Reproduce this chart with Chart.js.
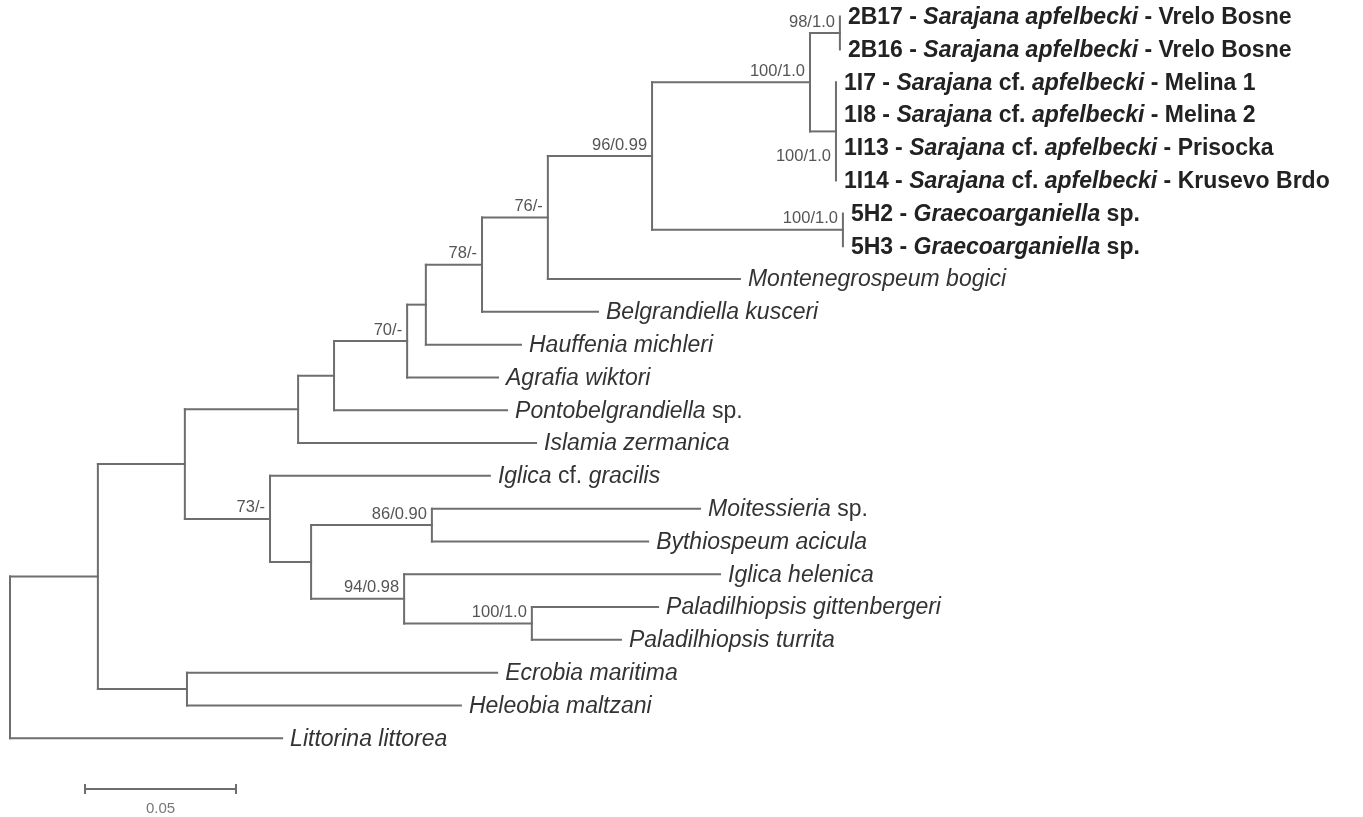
<!DOCTYPE html>
<html>
<head>
<meta charset="utf-8">
<title>Phylogenetic tree</title>
<script src="https://cdn.jsdelivr.net/npm/chart.js@4.4.1/dist/chart.umd.min.js"></script>
<style>
  html, body { margin: 0; padding: 0; background: #fff; }
  #wrap { width: 1363px; height: 817px; position: relative; }
</style>
</head>
<body>
<div id="wrap"><canvas id="tree"></canvas></div>
<script>
"use strict";

/* ── tips, top to bottom (*...* = italic) ── */
const tipLabels = [
  "2B17 - *Sarajana apfelbecki* - Vrelo Bosne",
  "2B16 - *Sarajana apfelbecki* - Vrelo Bosne",
  "1I7 - *Sarajana* cf. *apfelbecki* - Melina 1",
  "1I8 - *Sarajana* cf. *apfelbecki* - Melina 2",
  "1I13 - *Sarajana* cf. *apfelbecki* - Prisocka",
  "1I14 - *Sarajana* cf. *apfelbecki* - Krusevo Brdo",
  "5H2 - *Graecoarganiella* sp.",
  "5H3 - *Graecoarganiella* sp.",
  "*Montenegrospeum bogici*",
  "*Belgrandiella kusceri*",
  "*Hauffenia michleri*",
  "*Agrafia wiktori*",
  "*Pontobelgrandiella* sp.",
  "*Islamia zermanica*",
  "*Iglica* cf. *gracilis*",
  "*Moitessieria* sp.",
  "*Bythiospeum acicula*",
  "*Iglica helenica*",
  "*Paladilhiopsis gittenbergeri*",
  "*Paladilhiopsis turrita*",
  "*Ecrobia maritima*",
  "*Heleobia maltzani*",
  "*Littorina littorea*",
];
// distance from root (substitutions/site)
const tipDepth = [
  0.2748, 0.2748, 0.2735, 0.2735, 0.2735, 0.2735, 0.2758, 0.2758,
  0.2417, 0.1947, 0.1692, 0.1616, 0.1646, 0.1742, 0.1589, 0.2285,
  0.2113, 0.2351, 0.2146, 0.2023, 0.1613, 0.1493, 0.0901,
];
const boldTips = [0, 1, 2, 3, 4, 5, 6, 7];

/* ── internal nodes (children before parents) ── */
const nodeIds = ["M", "N", "K", "L", "J", "I", "H", "G", "F", "E", "D",
                 "Q", "S", "R", "P", "O", "C", "EH", "B", "root"];
const nodeDepth = [0.2748, 0.2735, 0.2649, 0.2758, 0.2126, 0.1781, 0.1563,
                   0.1377, 0.1315, 0.1073, 0.0954, 0.1397, 0.1728, 0.1305,
                   0.0997, 0.0861, 0.0579, 0.0586, 0.0291, 0];
const nodeChildren = [
  [0, 1], [2, 3, 4, 5], ["M", "N"], [6, 7], ["K", "L"], ["J", 8], ["I", 9],
  ["H", 10], ["G", 11], ["F", 12], ["E", 13], [15, 16], [18, 19], [17, "S"],
  ["Q", "R"], [14, "P"], ["D", "O"], [20, 21], ["C", "EH"], ["B", 22],
];
const nodeSupport = ["98/1.0", "100/1.0", "100/1.0", "100/1.0", "96/0.99",
                     "76/-", "78/-", "", "70/-", "", "", "86/0.90", "100/1.0",
                     "94/0.98", "", "73/-", "", "", "", ""];

const scaleBarLength = 0.05;
const scaleBarLabel = "0.05";

/* ── layout: y of a node = middle of its first/last child ── */
const pos = {};
tipLabels.forEach((t, i) => { pos[i] = { x: tipDepth[i], y: i }; });
nodeIds.forEach((id, k) => {
  const ys = nodeChildren[k].map((c) => pos[c].y);
  pos[id] = { x: nodeDepth[k], y: (Math.min(...ys) + Math.max(...ys)) / 2,
              lo: Math.min(...ys), hi: Math.max(...ys) };
});

const LINE = "#6e6e6e";
const datasets = [];
function seg(a, b) {
  datasets.push({
    data: [a, b], showLine: true, borderColor: LINE, borderWidth: 2,
    borderCapStyle: "square", pointRadius: 0, fill: false,
  });
}
nodeIds.forEach((id, k) => {
  const n = pos[id];
  seg({ x: n.x, y: n.lo }, { x: n.x, y: n.hi });
  nodeChildren[k].forEach((c) => {
    if (pos[c].x > n.x) seg({ x: n.x, y: pos[c].y }, { x: pos[c].x, y: pos[c].y });
  });
});

const FONT = "'Liberation Sans', Arial, sans-serif";
const supportBelow = ["N"];

const labelPlugin = {
  id: "treeLabels",
  afterDatasetsDraw(chart) {
    const ctx = chart.ctx, xs = chart.scales.x, ys = chart.scales.y;
    ctx.save();
    ctx.textBaseline = "middle";

    // tip names
    ctx.textAlign = "left";
    tipLabels.forEach((lab, i) => {
      const bold = boldTips.includes(i);
      let px = xs.getPixelForValue(tipDepth[i]) + 8;
      const py = ys.getPixelForValue(i) + 1;
      ctx.fillStyle = bold ? "#222" : "#333";
      lab.split("*").forEach((part, j) => {
        ctx.font = (j % 2 ? "italic " : "") + (bold ? "bold " : "") + "23px " + FONT;
        ctx.fillText(part, px, py);
        px += ctx.measureText(part).width;
      });
    });

    // bootstrap / posterior
    ctx.textAlign = "right";
    ctx.font = "16.5px " + FONT;
    ctx.fillStyle = "#555";
    nodeIds.forEach((id, k) => {
      if (!nodeSupport[k]) return;
      const px = xs.getPixelForValue(pos[id].x) - 5;
      const py = ys.getPixelForValue(pos[id].y) + (supportBelow.includes(id) ? 25 : -11);
      ctx.fillText(nodeSupport[k], px, py);
    });

    // scale bar
    const x0 = 85, yb = 789;
    const len = xs.getPixelForValue(scaleBarLength) - xs.getPixelForValue(0);
    ctx.strokeStyle = LINE;
    ctx.lineWidth = 2;
    ctx.beginPath();
    ctx.moveTo(x0, yb); ctx.lineTo(x0 + len, yb);
    ctx.moveTo(x0, yb - 5); ctx.lineTo(x0, yb + 5);
    ctx.moveTo(x0 + len, yb - 5); ctx.lineTo(x0 + len, yb + 5);
    ctx.stroke();
    ctx.textAlign = "center";
    ctx.font = "15px " + FONT;
    ctx.fillStyle = "#777";
    ctx.fillText(scaleBarLabel, x0 + len / 2, yb + 20);
    ctx.restore();
  },
};

new Chart(document.getElementById("tree"), {
  type: "scatter",
  data: { datasets },
  options: {
    responsive: true,
    maintainAspectRatio: false,
    animation: false,
    layout: { padding: 0 },
    plugins: { legend: { display: false }, tooltip: { enabled: false } },
    scales: {
      x: { type: "linear", display: false, min: -10 / 3020, max: 1353 / 3020 },
      y: { type: "linear", display: false, reverse: true, min: -0.506, max: 24.40 },
    },
  },
  plugins: [labelPlugin],
});
</script>
</body>
</html>
